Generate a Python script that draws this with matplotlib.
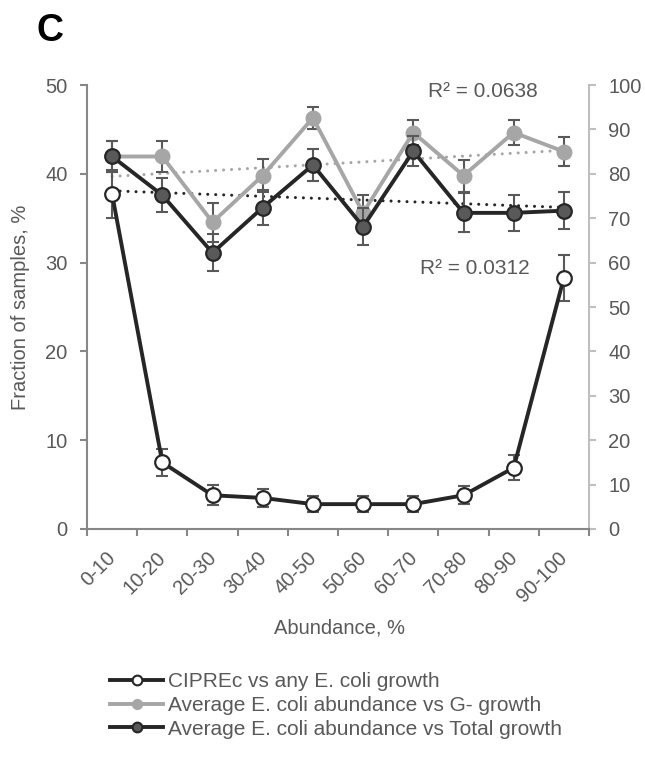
import numpy as np
import matplotlib
matplotlib.use("Agg")
import matplotlib.pyplot as plt
from matplotlib.lines import Line2D

plt.rcParams['font.family'] = ['Liberation Sans', 'DejaVu Sans']

categories = ["0-10", "10-20", "20-30", "30-40", "40-50", "50-60", "60-70", "70-80", "80-90", "90-100"]

# left axis (fraction of samples, %)
ciprec = [37.7, 7.5, 3.8, 3.5, 2.8, 2.8, 2.8, 3.8, 6.9, 28.3]
ciprec_err = [2.7, 1.5, 1.1, 1.0, 0.9, 0.9, 0.9, 1.0, 1.4, 2.6]

# right axis (average abundance)
g_neg = [83.9, 83.9, 69.1, 79.6, 92.6, 71.2, 89.3, 79.6, 89.3, 85.0]
g_neg_err = [3.5, 3.4, 4.4, 3.8, 2.4, 4.0, 2.8, 3.6, 2.8, 3.2]
total = [83.9, 75.2, 62.2, 72.4, 82.0, 68.1, 85.1, 71.2, 71.2, 71.7]
total_err = [3.4, 3.8, 4.2, 4.0, 3.6, 4.2, 3.4, 4.4, 4.0, 4.2]

r2_gneg = "R² = 0.0638"
r2_total = "R² = 0.0312"

DARK = "#262626"
DARKFILL = "#595959"
GRAY = "#a6a6a6"
TXT = "#595959"
ERR = "#595959"

fig = plt.figure(figsize=(6.45, 7.59), dpi=100)
ax = fig.add_axes([87/645, 1 - 529/759, (589-87)/645, (529-85)/759])
ax2 = ax.twinx()

x = np.arange(len(categories))

# trend lines (right axis)
for data, col in [(g_neg, GRAY), (total, DARK)]:
    p = np.polyfit(x, data, 1)
    ax2.plot(x, np.polyval(p, x), color=col, lw=2.2, linestyle=(0, (0.01, 2.6)),
             dash_capstyle='round', zorder=2)

# left axis series
ax.errorbar(x, ciprec, yerr=ciprec_err, fmt='none', ecolor=ERR, elinewidth=1.5,
            capsize=4.3, capthick=1.5, zorder=3)
ax.plot(x, ciprec, color=DARK, lw=2.8, marker='o', markersize=10.5,
        markerfacecolor='white', markeredgecolor=DARK, markeredgewidth=1.6, zorder=4)

# right axis series
ax2.errorbar(x, g_neg, yerr=g_neg_err, fmt='none', ecolor=ERR, elinewidth=1.5,
             capsize=4.3, capthick=1.5, zorder=3)
ax2.plot(x, g_neg, color=GRAY, lw=2.8, marker='o', markersize=10.5,
         markerfacecolor=GRAY, markeredgecolor=GRAY, zorder=4)
ax2.errorbar(x, total, yerr=total_err, fmt='none', ecolor=ERR, elinewidth=1.5,
             capsize=4.3, capthick=1.5, zorder=5)
ax2.plot(x, total, color=DARK, lw=2.8, marker='o', markersize=10.5,
         markerfacecolor=DARKFILL, markeredgecolor=DARK, markeredgewidth=1.6, zorder=6)

ax.set_zorder(ax2.get_zorder() + 1)
ax.patch.set_visible(False)

ax.set_xlim(-0.5, 9.5)
ax.set_ylim(0, 50)
ax2.set_ylim(0, 100)
ax.set_yticks(np.arange(0, 51, 10))
ax2.set_yticks(np.arange(0, 101, 10))

# labels anchored slightly left of category centre (zero-length major ticks)
ax.set_xticks(x - 0.12)
ax.set_xticklabels(categories, rotation=45, ha='right', va='top', rotation_mode='anchor')
ax.set_xticks(np.arange(-0.5, 10, 1), minor=True)
ax.tick_params(axis='x', which='major', length=0, pad=14, labelsize=14.5, labelcolor=TXT)
ax.tick_params(axis='x', which='minor', length=5, width=1.5, color="#878787", direction='out')
ax.tick_params(axis='y', length=5, width=1.5, color="#878787", labelsize=14.5, labelcolor=TXT, pad=9)
ax2.tick_params(axis='y', length=5, width=1.5, color="#bfbfbf", labelsize=14.5, labelcolor=TXT, pad=9)

for a in (ax, ax2):
    a.spines['top'].set_visible(False)
ax.spines['left'].set_color("#878787")
ax.spines['left'].set_linewidth(1.5)
ax.spines['bottom'].set_color("#878787")
ax.spines['bottom'].set_linewidth(1.5)
ax.spines['right'].set_visible(False)
ax2.spines['left'].set_visible(False)
ax2.spines['bottom'].set_visible(False)
ax2.spines['right'].set_color("#bfbfbf")
ax2.spines['right'].set_linewidth(1.5)

fig.text(21/645, 1 - 307/759, "Fraction of samples, %", fontsize=14.5, color=TXT,
         ha='center', va='center', rotation=90)
fig.text(339/645, 1 - 628/759, "Abundance, %", fontsize=14.5, color=TXT, ha='center', va='center')

ax2.text(8.47, 98.6, r2_gneg, fontsize=15, color=TXT, ha='right', va='center')
ax2.text(8.32, 58.6, r2_total, fontsize=15, color=TXT, ha='right', va='center')

fig.text(50/645, 1 - 31/759, "C", fontsize=27, fontweight='bold', ha='center', va='center')

handles = [
    Line2D([], [], color=DARK, lw=2.8, marker='o', markersize=7, markerfacecolor='white',
           markeredgecolor=DARK, markeredgewidth=1.5),
    Line2D([], [], color=GRAY, lw=2.8, marker='o', markersize=7, markerfacecolor=GRAY,
           markeredgecolor=GRAY),
    Line2D([], [], color=DARK, lw=2.8, marker='o', markersize=7, markerfacecolor=DARKFILL,
           markeredgecolor=DARK, markeredgewidth=1.5),
]
labels = ["CIPREc vs any E. coli growth",
          "Average E. coli abundance vs G- growth",
          "Average E. coli abundance vs Total growth"]
leg = fig.legend(handles, labels, loc='upper left', bbox_to_anchor=(110/645, 1 - 672/759),
                 frameon=False, fontsize=15, handlelength=2.55, handletextpad=0.25,
                 labelspacing=0.23, borderaxespad=0, borderpad=0)
for t in leg.get_texts():
    t.set_color(TXT)

fig.savefig("out.png", dpi=100)
